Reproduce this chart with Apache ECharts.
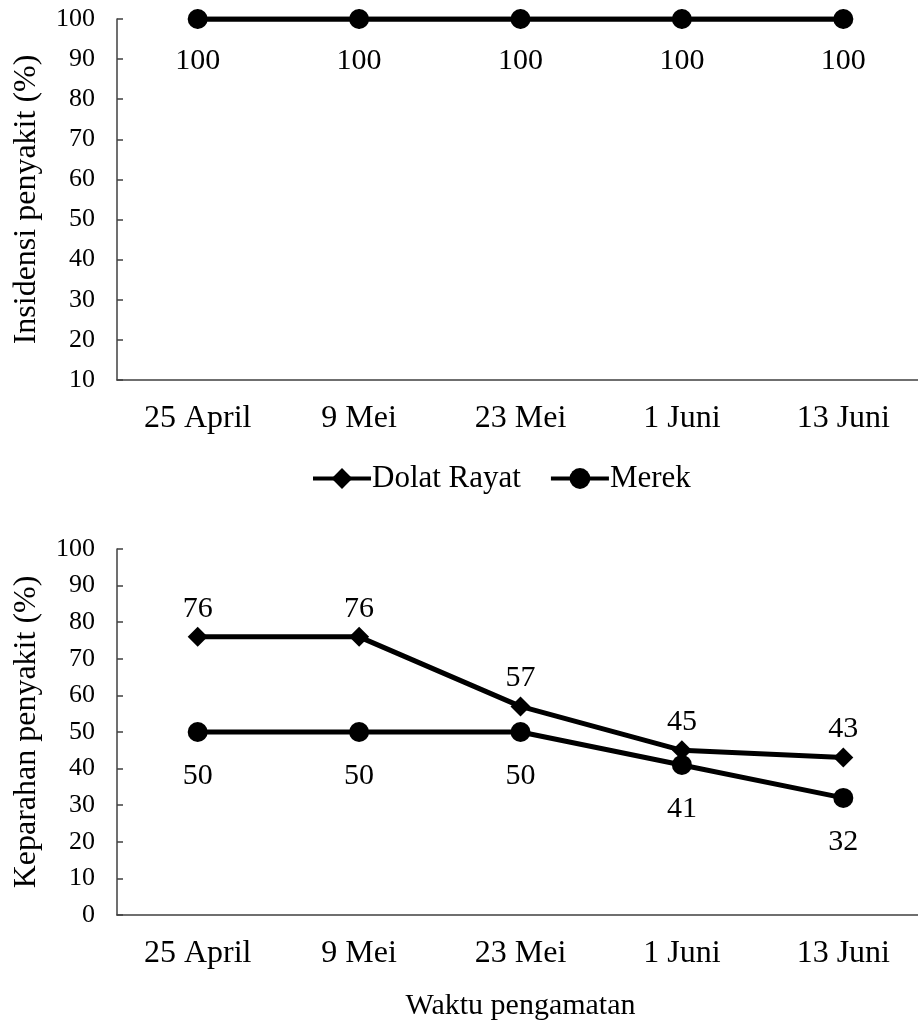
<!DOCTYPE html>
<html>
<head>
<meta charset="utf-8">
<script src="https://cdn.jsdelivr.net/npm/echarts@6/dist/echarts.min.js"></script>
<style>
  html, body { margin: 0; padding: 0; background: #fff; }
  #chart { width: 918px; height: 1023px; }
</style>
</head>
<body>
<div id="chart"></div>
<script>
  // data
  const dates = ['25 April', '9 Mei', '23 Mei', '1 Juni', '13 Juni']
  const insidensiDolat = [100, 100, 100, 100, 100]
  const insidensiMerek = [100, 100, 100, 100, 100]
  const keparahanDolat = [76, 76, 57, 45, 43]
  const keparahanMerek = [50, 50, 50, 41, 32]

  const font = 'Liberation Serif, Times New Roman, serif'
  const black = '#000'
  const axisGray = '#404040'

  function xAxis(gridIndex, name) {
    return {
      type: 'category',
      gridIndex: gridIndex,
      data: dates,
      name: name,
      nameLocation: 'middle',
      nameTextStyle: { fontFamily: font, fontSize: 30, color: black },
      nameGap: 76,
      axisLine: { lineStyle: { color: axisGray, width: 1.5 } },
      axisTick: { alignWithLabel: true, length: 7, lineStyle: { color: axisGray, width: 1.5 } },
      axisLabel: { fontFamily: font, fontSize: 32, color: black, margin: 23 }
    }
  }
  function yAxis(gridIndex, name, min) {
    return {
      type: 'value',
      gridIndex: gridIndex,
      min: min,
      max: 100,
      interval: 10,
      name: name,
      nameLocation: 'middle',
      nameGap: 74,
      nameTextStyle: { fontFamily: font, fontSize: 32, color: black },
      splitLine: { show: false },
      axisLine: { show: true, lineStyle: { color: axisGray, width: 1.5 } },
      axisTick: { show: true, inside: true, length: 6, lineStyle: { color: axisGray, width: 1.5 } },
      axisLabel: { fontFamily: font, fontSize: 26, color: black, margin: 22 }
    }
  }
  function line(name, symbol, data, axisIndex, labelPos, labelDist, showLabel) {
    return {
      name: name,
      type: 'line',
      xAxisIndex: axisIndex,
      yAxisIndex: axisIndex,
      data: data,
      symbol: symbol,
      symbolSize: 20,
      showAllSymbol: true,
      lineStyle: { color: black, width: 5 },
      itemStyle: { color: black },
      label: {
        show: showLabel,
        position: labelPos,
        distance: labelDist,
        fontFamily: font,
        fontSize: 30,
        color: black
      },
      animation: false
    }
  }

  const option = {
    backgroundColor: '#fff',
    animation: false,
    legend: {
      top: 458,
      left: 306,
      itemWidth: 58,
      itemHeight: 26,
      itemGap: 28,
      data: ['Dolat Rayat', 'Merek'],
      lineStyle: { width: 4 },
      textStyle: { fontFamily: font, fontSize: 31, color: black, padding: [0, 0, 0, -4] }
    },
    grid: [
      { left: 117, right: -6, top: 19, height: 361, outerBoundsMode: 'none' },
      { left: 117, right: -6, top: 549, height: 366, outerBoundsMode: 'none' }
    ],
    xAxis: [xAxis(0, ''), xAxis(1, 'Waktu pengamatan')],
    yAxis: [yAxis(0, 'Insidensi penyakit (%)', 10), yAxis(1, 'Keparahan penyakit (%)', 0)],
    series: [
      line('Dolat Rayat', 'diamond', insidensiDolat, 0, 'bottom', 17, false),
      line('Merek', 'circle', insidensiMerek, 0, 'bottom', 17, true),
      line('Dolat Rayat', 'diamond', keparahanDolat, 1, 'top', 3, true),
      line('Merek', 'circle', keparahanMerek, 1, 'bottom', 19, true)
    ]
  }

  const myChart = echarts.init(document.getElementById('chart'))
  myChart.setOption(option)
</script>
</body>
</html>
